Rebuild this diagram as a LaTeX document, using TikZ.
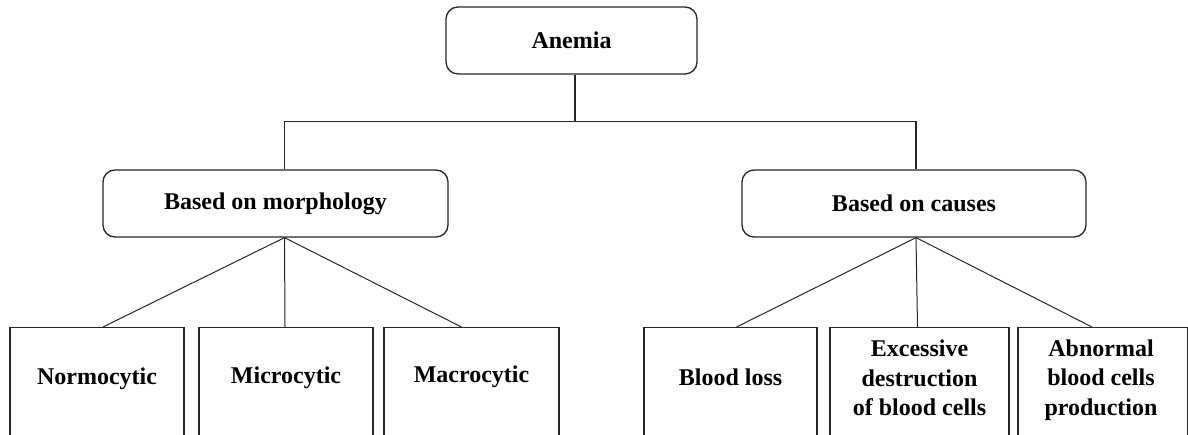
\documentclass[tikz,border=0pt]{standalone}
\usepackage{fontspec}
\setmainfont{Liberation Serif}
\begin{document}
\begin{tikzpicture}[x=1pt,y=-1pt,line width=1.3pt,
    every node/.style={font=\fontsize{24}{29.5}\selectfont\bfseries},
    group/.style={draw=black!85,rounded corners=12pt,minimum height=67pt,inner sep=0pt},
    leaf/.style={draw=black!85,anchor=north,minimum height=160pt,inner sep=0pt},
    leaftext/.style={align=center,inner sep=0pt}]
      \useasboundingbox (0,0) rectangle (1188,435);
      % top
      \node [group,minimum width=251pt] (anemia) at (571.5,40.5) {Anemia};
      \node [group,minimum width=345pt] (morph) at (275.5,203.5) {Based on morphology};
      \node [group,minimum width=344pt] (causes) at (914,203.5) {Based on causes};
      \path ([xshift=3.5pt]anemia.south) ++(0,47) coordinate (split);
      \draw [black!85] ([xshift=3.5pt]anemia.south) -- (split);
      \draw [black!85] ([xshift=9pt]morph.north) |- (split) -| ([xshift=2pt]causes.north);
      % leaves, morphology
      \node [leaf,minimum width=174pt] (normo) at (97,327) {};
      \node [leaf,minimum width=174pt] (micro) at (286,327) {};
      \node [leaf,minimum width=175pt] (macro) at (471.5,327) {};
      \node [leaftext] (normoT) at (97,379) {Normocytic};
      \node [leaftext] (microT) at (286,378) {Microcytic};
      \node [leaftext] (macroT) at (471.5,377) {Macrocytic};
      % leaves, causes
      \node [leaf,minimum width=173pt] (loss) at (730.5,327) {};
      \node [leaf,minimum width=179pt] (destr) at (919.5,327) {};
      \node [leaf,minimum width=170pt] (prod) at (1103,327) {};
      \node [leaftext] (lossT) at (730.5,377) {Blood loss};
      \node [leaftext] (destrT) at (919.5,378) {Excessive\\destruction\\of blood cells};
      \node [leaftext] (prodT) at (1101,380) {Abnormal\\blood cells\\production};
      \draw [black!85,line width=1pt] ([xshift=9pt]morph.south) -- ([xshift=6pt]normo.north);
      \draw [black!85,line width=1pt] ([xshift=9pt]morph.south) -- ([xshift=-1pt]micro.north);
      \draw [black!85,line width=1pt] ([xshift=9pt]morph.south) -- ([xshift=-10pt]macro.north);
      \draw [black!85,line width=1pt] ([xshift=2pt]causes.south) -- ([xshift=6pt]loss.north);
      \draw [black!85,line width=1pt] ([xshift=2pt]causes.south) -- ([xshift=-2pt]destr.north);
      \draw [black!85,line width=1pt] ([xshift=2pt]causes.south) -- ([xshift=-11pt]prod.north);
\end{tikzpicture}
\end{document}
